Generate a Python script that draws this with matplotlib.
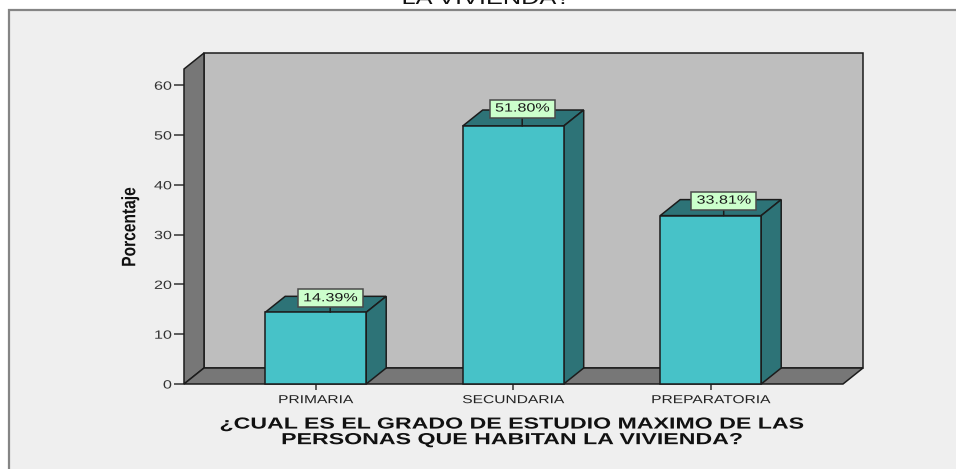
import matplotlib.pyplot as plt
from matplotlib.patches import Polygon, Rectangle
from matplotlib.patheffects import AbstractPathEffect
from matplotlib.path import Path
from matplotlib.transforms import Affine2D

plt.rcParams['font.family'] = ['Liberation Sans', 'DejaVu Sans']

#%% datos
categorias = ['PRIMARIA', 'SECUNDARIA', 'PREPARATORIA']
valores = [14.39, 51.80, 33.81]
etiquetas = ['14.39%', '51.80%', '33.81%']
yticks = [0, 10, 20, 30, 40, 50, 60]
titulo_x = '¿CUAL ES EL GRADO DE ESTUDIO MAXIMO DE LAS\nPERSONAS QUE HABITAN LA VIVIENDA?'
titulo_arriba = 'LA VIVIENDA?'
titulo_y = 'Porcentaje'

#%% estilo
W, H = 956, 469
C_FRENTE = '#47c2c8'
C_LADO = '#2d7377'
C_PARED = '#777777'
C_FONDO = '#bebebe'
C_BORDE = '#1c1c1c'
C_PANEL = '#efefef'
LW = 1.1
ESTIRA = 1.35  # la imagen original esta estirada a lo ancho

# escalas en pixeles
px_x = 197.5   # px por categoria
px_y = 4.98    # px por unidad de y
dx = 20 / px_x
dy = 16 / px_y
ancho = 101 / px_x
y_front = 63.25

# desplazamiento de cada etiqueta en px (respecto del borde superior de la barra)
off_x = [14.5, 9, 13]
off_y = [14, 17.5, 15]


class Estirar(AbstractPathEffect):
    # estira el texto alrededor de un punto fijo (px de pantalla)
    def __init__(self, cx=0, sx=ESTIRA, cy=0, sy=1):
        super().__init__()
        self.cx = cx
        self.sx = sx
        self.cy = cy
        self.sy = sy

    def draw_path(self, renderer, gc, tpath, affine, rgbFace=None):
        t = affine + Affine2D().translate(-self.cx, -self.cy).scale(self.sx, self.sy).translate(self.cx, self.cy)
        renderer.draw_path(gc, tpath, t, rgbFace)


def caja(x0, y0, w, h, mutation_size):
    # caja de tamano fijo, 65x18 px, centrada en el texto
    cx = x0 + w / 2
    cy = y0 + h / 2
    return Path([(cx - 32.5, cy - 9), (cx + 32.5, cy - 9), (cx + 32.5, cy + 9), (cx - 32.5, cy + 9), (cx - 32.5, cy - 9)],
                closed=True)


fig = plt.figure(figsize=(W / 100, H / 100), dpi=100, facecolor='white')
fig.add_artist(Rectangle((9 / W, -0.1), 1.1, 1 - 10 / H + 0.1, transform=fig.transFigure,
                         facecolor=C_PANEL, edgecolor='#858585', linewidth=1.6, zorder=0))

ax = fig.add_axes([184 / W, 1 - 384 / H, (863 - 184) / W, (384 - 53) / H], zorder=2)
ax.patch.set_visible(False)
xmin = (184 - 315.7) / px_x
xmax = (863 - 315.7) / px_x
ax.set_xlim(xmin, xmax)
ax.set_ylim(0, y_front + dy)
for s in ax.spines.values():
    s.set_visible(False)

def poly(puntos, color, z):
    ax.add_patch(Polygon(puntos, closed=True, facecolor=color, edgecolor=C_BORDE,
                         linewidth=LW, joinstyle='miter', zorder=z, clip_on=False))

#%% paredes
x_front = xmax - dx
poly([(xmin + dx, dy), (xmax, dy), (xmax, y_front + dy), (xmin + dx, y_front + dy)], C_FONDO, 1)
poly([(xmin, 0), (xmin + dx, dy), (xmin + dx, y_front + dy), (xmin, y_front)], C_PARED, 2)
poly([(xmin, 0), (x_front, 0), (xmax, dy), (xmin + dx, dy)], C_PARED, 2)

#%% barras
for i, v in enumerate(valores):
    x0 = i - ancho / 2
    x1 = i + ancho / 2
    poly([(x0, v), (x1, v), (x1 + dx, v + dy), (x0 + dx, v + dy)], C_LADO, 3)
    poly([(x1, 0), (x1 + dx, dy), (x1 + dx, v + dy), (x1, v)], C_LADO, 3)
    poly([(x0, 0), (x1, 0), (x1, v), (x0, v)], C_FRENTE, 4)
    an = ax.annotate(etiquetas[i], xy=(i + off_x[i] / px_x, v), xytext=(0, off_y[i]),
                     textcoords='offset pixels', ha='center', va='center', fontsize=8.6,
                     color='#1a1a1a', zorder=6,
                     bbox=dict(boxstyle=caja, facecolor='#ccffcc', edgecolor='#4a4a4a', linewidth=1.1),
                     arrowprops=dict(arrowstyle='-', color=C_BORDE, linewidth=1.1, shrinkA=0, shrinkB=0))
    an.set_path_effects([Estirar(315.7 + i * px_x + off_x[i])])

#%% ejes
ax.set_yticks(yticks)
ax.set_xticks(range(len(categorias)))
ax.set_xticklabels(categorias, fontsize=8.3, color='#222222')
ax.tick_params(axis='y', length=7.2, width=1.1, pad=1.5, labelsize=8.6, labelcolor='#333333', color='#333333')
ax.tick_params(axis='x', length=4.3, width=1.1, pad=3, color='#333333')
for lab in ax.get_yticklabels():
    lab.set_path_effects([Estirar(172)])
for i, lab in enumerate(ax.get_xticklabels()):
    lab.set_path_effects([Estirar(315.7 + i * px_x)])

ax.set_xlabel(titulo_x, fontsize=11.5, fontweight='bold', linespacing=1.05,
              x=(513 - 184) / (863 - 184), labelpad=7.5, color='#111111',
              path_effects=[Estirar(513, 1.45)])
ax.set_ylabel(titulo_y, fontsize=14, fontweight='bold',
              y=(384 - 227) / (384 - 53), labelpad=14, color='#111111',
              path_effects=[Estirar(0, 1, H - 227, 0.8)])

fig.text(486 / W, 1 - 4 / H, titulo_arriba, fontsize=13.5, ha='center', va='baseline',
         color='#111111', path_effects=[Estirar(486)])

fig.savefig('out.png', dpi=100, facecolor='white')
